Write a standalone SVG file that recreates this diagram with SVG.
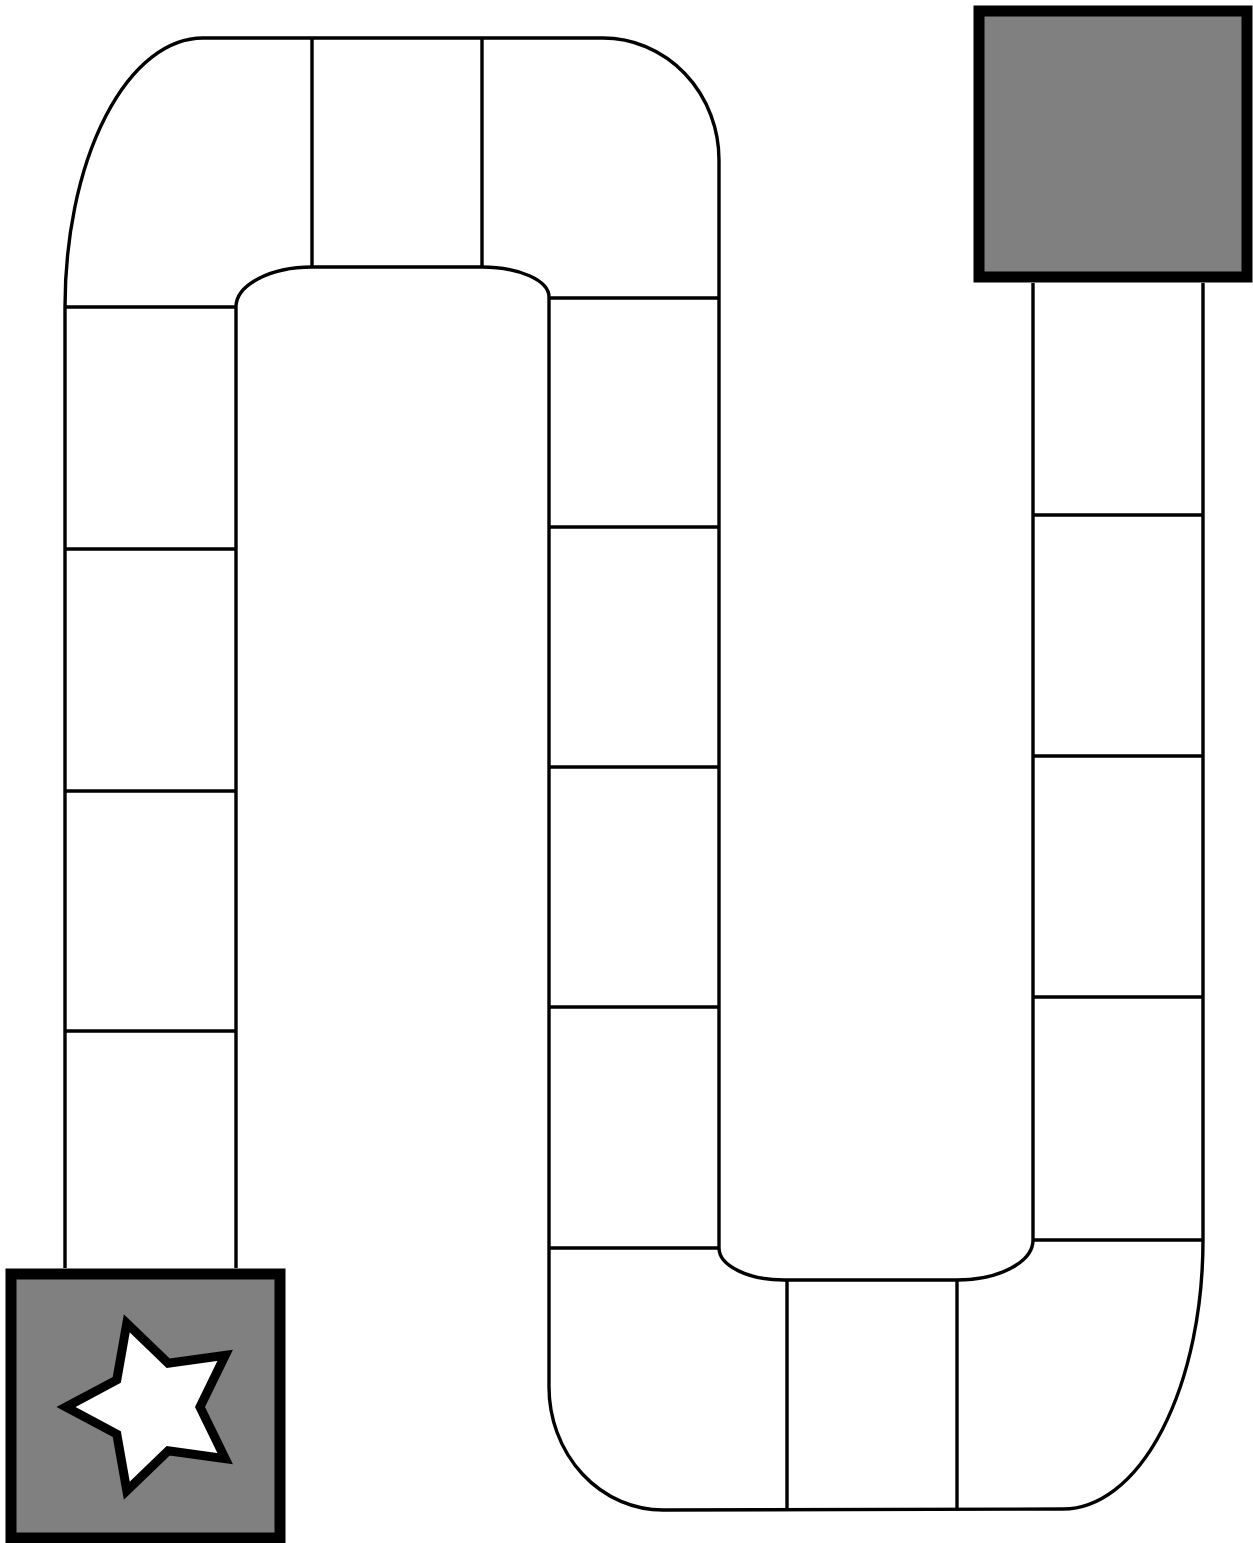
<svg xmlns="http://www.w3.org/2000/svg" width="1253" height="1543" viewBox="0 0 1253 1543">
<style>
.ln{fill:none;stroke:#000;stroke-width:3.4;stroke-linejoin:round}
.box{fill:#808080;stroke:#000;stroke-width:11}
.star{fill:#fff;stroke:#000;stroke-width:9;stroke-linejoin:miter;stroke-miterlimit:10}
</style>
<rect width="1253" height="1543" fill="#fff"/>
<g id="track">
<path class="ln" d="M65,1268 V307 A138,269 0 0 1 203,38 L603,38 A116,122 0 0 1 719,160 V1248 A65,32 0 0 0 784,1280 L957,1280 A76,40 0 0 0 1033,1240 V283"/>
<path class="ln" d="M1203,283 V1240 A140,269 0 0 1 1063,1509 L663,1510 A114,123 0 0 1 549,1387 V297 A67,30 0 0 0 482,267 L312,267 A76,40 0 0 0 236,307 V1268"/>
</g>
<g id="spaces">
<path class="ln" d="M65,307 H236 M65,549 H236 M65,791 H236 M65,1031 H236"/>
<path class="ln" d="M312,38 V267 M482,38 V267"/>
<path class="ln" d="M549,298 H719 M549,527 H719 M549,767 H719 M549,1007 H719 M549,1248 H719"/>
<path class="ln" d="M787,1280 V1510 M957,1280 V1509"/>
<path class="ln" d="M1033,515 H1203 M1033,756 H1203 M1033,997 H1203 M1033,1240 H1203"/>
</g>
<g id="start">
<rect class="box" x="11" y="1274" width="269" height="264"/>
<polygon class="star" points="66,1407 116.8,1379.9 126.8,1323.3 168.2,1363.3 225.2,1355.3 200,1407 225.2,1458.7 168.2,1450.7 126.8,1490.7 116.8,1434.1"/>
</g>
<g id="finish">
<rect class="box" x="979" y="11" width="268" height="266"/>
</g>
</svg>
